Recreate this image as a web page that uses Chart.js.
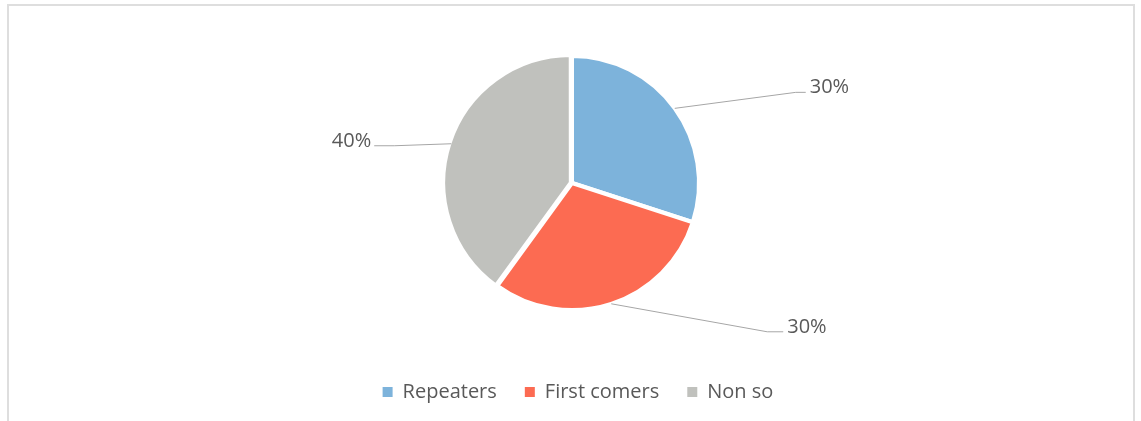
<!DOCTYPE html>
<html>
<head>
<meta charset="utf-8">
<script src="https://cdn.jsdelivr.net/npm/chart.js@4/dist/chart.umd.min.js"></script>
<style>
    html, body { margin: 0; padding: 0; background: #fff; overflow: hidden; }
    .frame {
        position: absolute; left: 7px; top: 4px;
        width: 1124px; height: 440px;
        border: 2px solid #dedede; border-bottom: none;
    }
    .wrap { position: absolute; left: 0; top: 0; width: 1141px; height: 421px; }
</style>
</head>
<body>
<div class="frame"></div>
<div class="wrap"><canvas id="pieChart" width="1141" height="421"></canvas></div>
<script>
// Share of respondents by group
const groupLabels = ['Repeaters', 'First comers', 'Non so'];
const groupShares = [30, 30, 40];
const groupColors = ['#7db3db', '#fc6b52', '#c0c1bd'];

// Leader line bend (relative to the slice edge), horizontal tail length
const leaderBend = [[121, -16], [156, 28], [-57, 2]];
const leaderTail = [10, 16, -20];

const textColor = '#595959';
const fontFamily = "'Open Sans', sans-serif";

// Percent labels with leader lines outside the pie
const leaderLabels = {
    id: 'leaderLabels',
    afterDatasetsDraw(chart) {
        const ctx = chart.ctx;
        const meta = chart.getDatasetMeta(0);
        ctx.save();
        ctx.font = '20px ' + fontFamily;
        ctx.fillStyle = textColor;
        ctx.strokeStyle = '#a6a6a6';
        ctx.lineWidth = 1;
        ctx.textBaseline = 'alphabetic';
        meta.data.forEach((arc, i) => {
            const mid = (arc.startAngle + arc.endAngle) / 2;
            const ex = arc.x + Math.cos(mid) * arc.outerRadius;
            const ey = arc.y + Math.sin(mid) * arc.outerRadius;
            const bx = ex + leaderBend[i][0];
            const by = ey + leaderBend[i][1];
            const tx = bx + leaderTail[i];
            ctx.beginPath();
            ctx.moveTo(ex, ey);
            ctx.lineTo(bx, by);
            ctx.lineTo(tx, by);
            ctx.stroke();
            const right = leaderTail[i] > 0;
            ctx.textAlign = right ? 'left' : 'right';
            ctx.fillText(groupShares[i] + '%', tx + (right ? 4 : -3), by + 1);
        });
        ctx.restore();
    }
};

// Nudge the legend a little to the right of the pie centre
const legendShift = {
    id: 'legendShift',
    afterLayout(chart) {
        chart.legend.left += 6;
        chart.legend.right += 6;
    }
};

new Chart(document.getElementById('pieChart'), {
    type: 'pie',
    data: {
        labels: groupLabels,
        datasets: [{
            data: groupShares,
            backgroundColor: groupColors,
            borderColor: '#ffffff',
            borderWidth: 4,
            offset: [0, 0, 5]
        }]
    },
    options: {
        responsive: false,
        animation: false,
        radius: 127,
        layout: { padding: { top: 12, bottom: 9, left: 3, right: 0 } },
        plugins: {
            tooltip: { enabled: false },
            legend: {
                position: 'bottom',
                labels: {
                    color: textColor,
                    font: { family: fontFamily, size: 20 },
                    boxWidth: 10,
                    boxHeight: 10,
                    padding: 28,
                    generateLabels: () => groupLabels.map((t, i) => ({
                        text: t,
                        fillStyle: groupColors[i],
                        strokeStyle: groupColors[i],
                        lineWidth: 0,
                        fontColor: textColor,
                        hidden: false,
                        index: i
                    }))
                }
            }
        }
    },
    plugins: [leaderLabels, legendShift]
});
</script>
</body>
</html>
